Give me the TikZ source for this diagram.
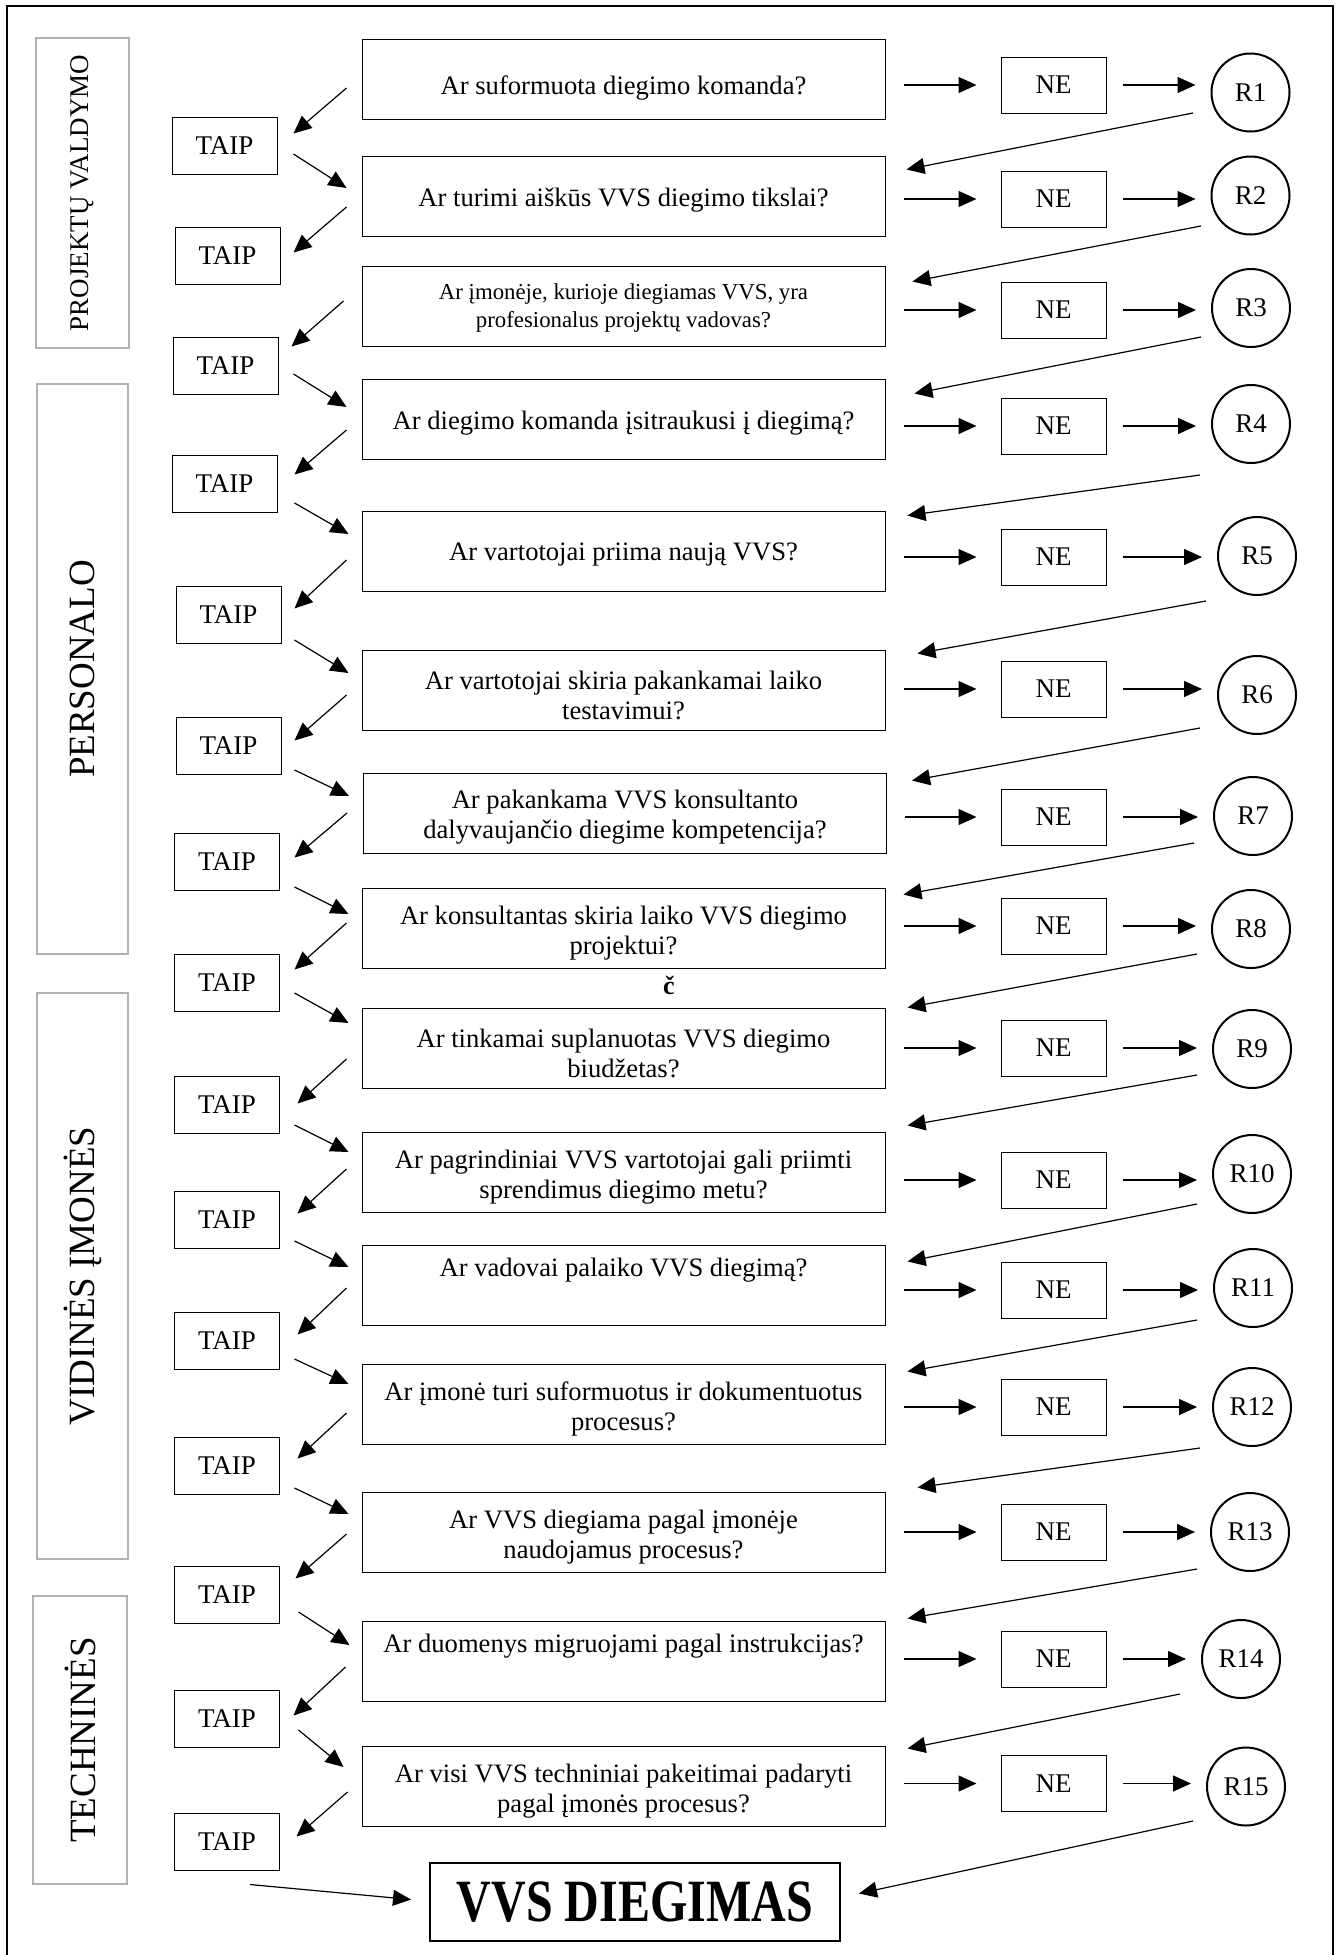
\documentclass[tikz,border=0pt]{standalone}
\usepackage{fontspec}
\usepackage{graphicx}
\setmainfont{Liberation Serif}
\usetikzlibrary{arrows.meta,calc}

\begin{document}
\begin{tikzpicture}[x=0.5pt,y=-0.5pt,
  qbox/.style={draw, line width=0.5pt, minimum width=261.5pt, minimum height=40pt,
    inner sep=0pt},
  qtext/.style={align=center, inner sep=0pt, font=\fontsize{13.3}{15}\selectfont},
  yesbox/.style={draw, line width=0.5pt, minimum width=52.5pt, minimum height=28.5pt,
    inner sep=0pt, font=\fontsize{13.5}{15}\selectfont},
  nobox/.style={yesbox, minimum height=28pt},
  rcirc/.style={draw, circle, line width=1pt, minimum size=39pt, inner sep=0pt,
    font=\fontsize{13.5}{15}\selectfont},
  catbox/.style={draw=gray!60, line width=1pt, rotate=90, inner sep=0pt},
  arr/.style={-{Triangle[length=9pt,width=8pt]}, line width=0.6pt},
]
\useasboundingbox (0,0) rectangle (1337,1955);

% outer frame (open at the bottom edge of the page)
\draw[line width=1.2pt] (7,1965) -- (7,6) -- (1333,6) -- (1333,1965);

% category boxes
\node[catbox, minimum width=155pt, minimum height=46.5pt, font=\fontsize{13.5}{15}\selectfont]
  (c1) at (82.5,193) {PROJEKTŲ VALDYMO};
\node[catbox, minimum width=285pt, minimum height=45.5pt, font=\fontsize{18.5}{20}\selectfont]
  (c2) at (82.5,669) {PERSONALO};
\node[catbox, minimum width=283pt, minimum height=45.5pt, font=\fontsize{18.5}{20}\selectfont]
  (c3) at (82.5,1276) {VIDINĖS ĮMONĖS};
\node[catbox, minimum width=144pt, minimum height=47pt, font=\fontsize{18.5}{20}\selectfont]
  (c4) at (80,1740) {TECHNINĖS};

% question boxes
\foreach \i/\x/\y in {1/623.5/79,2/623.5/196,3/623.5/306,4/623.5/419,5/623.5/551,
                      6/623.5/690,7/625/813,8/623.5/928,9/623.5/1048,10/623.5/1172,
                      11/623.5/1285,12/623.5/1404,13/623.5/1532,14/623.5/1661,15/623.5/1786}
  \node[qbox] (q\i) at (\x,\y) {};

% question texts
\node[qtext] (q1t) at ($(q1)+(0,9)$) {Ar suformuota diegimo komanda?};
\node[qtext] (q2t) at ($(q2)+(0,4)$) {Ar turimi aiškūs VVS diegimo tikslai?};
\node[qtext, font=\fontsize{11.4}{14}\selectfont] (q3t) at ($(q3)+(0,2)$)
  {Ar įmonėje, kurioje diegiamas VVS, yra\\profesionalus projektų vadovas?};
\node[qtext] (q4t) at ($(q4)+(0,4)$) {Ar diegimo komanda įsitraukusi į diegimą?};
\node[qtext] (q5t) at ($(q5)+(0,4)$) {Ar vartotojai priima naują VVS?};
\node[qtext] (q6t) at ($(q6)+(0,5)$) {Ar vartotojai skiria pakankamai laiko\\testavimui?};
\node[qtext] (q7t) at ($(q7)+(0,4)$) {Ar pakankama VVS konsultanto\\dalyvaujančio diegime kompetencija?};
\node[qtext] (q8t) at ($(q8)+(0,5)$) {Ar konsultantas skiria laiko VVS diegimo\\projektui?};
\node[qtext] (q9t) at ($(q9)+(0,5)$) {Ar tinkamai suplanuotas VVS diegimo\\biudžetas?};
\node[qtext] (q10t) at ($(q10)+(0,5)$) {Ar pagrindiniai VVS vartotojai gali priimti\\sprendimus diegimo metu?};
\node[qtext, anchor=base] (q11t) at ($(q11.north)+(0,32)$) {Ar vadovai palaiko VVS diegimą?};
\node[qtext] (q12t) at ($(q12)+(0,5)$) {Ar įmonė turi suformuotus ir dokumentuotus\\procesus?};
\node[qtext] (q13t) at ($(q13)+(0,5)$) {Ar VVS diegiama pagal įmonėje\\naudojamus procesus?};
\node[qtext, anchor=base] (q14t) at ($(q14.north)+(0,32)$) {Ar duomenys migruojami pagal instrukcijas?};
\node[qtext] (q15t) at ($(q15)+(0,5)$) {Ar visi VVS techniniai pakeitimai padaryti\\pagal įmonės procesus?};

\node[font=\bfseries\fontsize{13}{15}\selectfont] (cmark) at (669,985) {č};

% final box
\node[draw, line width=1pt, minimum width=205pt, minimum height=39pt, inner sep=0pt,
  font=\bfseries\fontsize{24}{26}\selectfont] (fin) at (635,1902) {\scalebox{1}[1.25]{VVS DIEGIMAS}};

% yes boxes
\node[yesbox] (t1) at (224.5,145.5) {TAIP};
\node[yesbox] (t2) at (227.5,255.5) {TAIP};
\node[yesbox] (t3) at (225.5,365.5) {TAIP};
\node[yesbox] (t4) at (224.5,483.5) {TAIP};
\node[yesbox] (t5) at (228.5,614.5) {TAIP};
\node[yesbox] (t6) at (228.5,745.5) {TAIP};
\node[yesbox] (t7) at (227,861.5) {TAIP};
\node[yesbox] (t8) at (227,982.5) {TAIP};
\node[yesbox] (t9) at (227,1104.5) {TAIP};
\node[yesbox] (t10) at (227,1219.5) {TAIP};
\node[yesbox] (t11) at (227,1340.5) {TAIP};
\node[yesbox] (t12) at (227,1465.5) {TAIP};
\node[yesbox] (t13) at (227,1594.5) {TAIP};
\node[yesbox] (t14) at (227,1718.5) {TAIP};
\node[yesbox] (t15) at (227,1841.5) {TAIP};

% no boxes
\foreach \i/\y in {1/85,2/199,3/310,4/426,5/557,6/689,7/817,8/926,9/1048,10/1180,
                   11/1290,12/1407,13/1532,14/1659,15/1783.5}
  \node[nobox] (ne\i) at (1053.5,\y) {NE};

% result circles
\foreach \i/\x/\y in {1/1250.5/92.5,2/1250.5/195.5,3/1251/308,4/1251/424,5/1257/556,
                      6/1257/695,7/1253/816,8/1251/929,9/1252/1049,10/1252/1174,
                      11/1253/1288,12/1252/1407,13/1250/1532,14/1241/1659,15/1246/1786.5}
  \node[rcirc] (r\i) at (\x,\y) {R\i};

% question -> NE -> R
\foreach \i in {1,...,15}{
  \draw[arr, shorten <=9pt, shorten >=12pt] (q\i.east |- ne\i) -- (ne\i.west);
  \draw[arr, shorten <=8pt, shorten >=7.5pt] (ne\i.east) -- (r\i.west |- ne\i);
}

% R -> next question
\draw[arr] ($(r1)+(-57.5,20.5)$) -- ($(q2.north east)+(21,14)$);
\draw[arr] ($(r2)+(-49.5,30.5)$) -- ($(q3.north east)+(27,16)$);
\draw[arr] ($(r3)+(-50,29)$) -- ($(q4.north east)+(29,15)$);
\draw[arr] ($(r4)+(-51,51)$) -- ($(q5.north east)+(22,5)$);
\draw[arr] ($(r5)+(-51,45)$) -- ($(q6.north east)+(32,4)$);
\draw[arr] ($(r6)+(-57,33)$) -- ($(q7.north east)+(25,8)$);
\draw[arr] ($(r7)+(-59,27)$) -- ($(q8.north east)+(18,7)$);
\draw[arr] ($(r8)+(-54,25)$) -- ($(q9.north east)+(22,0)$);
\draw[arr] ($(r9)+(-55,26)$) -- ($(q10.north east)+(22,-6)$);
\draw[arr] ($(r10)+(-55,30)$) -- ($(q11.north east)+(22,17)$);
\draw[arr] ($(r11)+(-56,32)$) -- ($(q12.north east)+(22,8)$);
\draw[arr] ($(r12)+(-52,41)$) -- ($(q13.north east)+(32,-4)$);
\draw[arr] ($(r13)+(-53,37)$) -- ($(q14.north east)+(22,-2)$);
\draw[arr] ($(r14)+(-61,35)$) -- ($(q15.north east)+(22,3)$);
\draw[arr] ($(r15)+(-53,34.5)$) -- ($(fin.east)+(18,-8.5)$);

% question -> TAIP
\draw[arr] ($(q1.west)+(-15,9)$) -- ($(t1.north east)+(16,17)$);
\draw[arr] ($(q2.west)+(-15,11)$) -- ($(t2.north east)+(13,26)$);
\draw[arr] ($(q3.west)+(-18,-5)$) -- ($(t3.north east)+(13,10)$);
\draw[arr] ($(q4.west)+(-15,11)$) -- ($(t4.north east)+(17,20)$);
\draw[arr] ($(q5.west)+(-15,9)$) -- ($(t5.north east)+(13,23)$);
\draw[arr] ($(q6.west)+(-15,5)$) -- ($(t6.north east)+(13,24)$);
\draw[arr] ($(q7.west)+(-16,0)$) -- ($(t7.north east)+(14.5,25)$);
\draw[arr] ($(q8.west)+(-15,-5)$) -- ($(t8.north east)+(14.5,16)$);
\draw[arr] ($(q9.west)+(-15,11)$) -- ($(t9.north east)+(17.5,28)$);
\draw[arr] ($(q10.west)+(-15,-3)$) -- ($(t10.north east)+(17.5,23)$);
\draw[arr] ($(q11.west)+(-15,3)$) -- ($(t11.north east)+(17.5,23)$);
\draw[arr] ($(q12.west)+(-15,9)$) -- ($(t12.north east)+(17.5,22)$);
\draw[arr] ($(q13.west)+(-15,2)$) -- ($(t13.north east)+(15.5,13)$);
\draw[arr] ($(q14.west)+(-16,6)$) -- ($(t14.north east)+(13.5,26)$);
\draw[arr] ($(q15.west)+(-14,6)$) -- ($(t15.north east)+(16.5,24)$);

% TAIP -> next question
\draw[arr] ($(t1.east)+(16,8.5)$) -- ($(q2.west)+(-15,-8)$);
\draw[arr] ($(t3.east)+(15,8.5)$) -- ($(q4.west)+(-15,-12)$);
\draw[arr] ($(t4.east)+(17,19.5)$) -- ($(q5.west)+(-13,-17)$);
\draw[arr] ($(t5.east)+(13,25.5)$) -- ($(q6.west)+(-13,-17)$);
\draw[arr] ($(t6.east)+(13,24.5)$) -- ($(q7.west)+(-14,-17)$);
\draw[arr] ($(t7.east)+(14.5,25.5)$) -- ($(q8.west)+(-13,-14)$);
\draw[arr] ($(t8.east)+(14.5,10.5)$) -- ($(q9.west)+(-13,-25)$);
\draw[arr] ($(t9.east)+(14.5,20.5)$) -- ($(q10.west)+(-13,-20)$);
\draw[arr] ($(t10.east)+(14.5,21.5)$) -- ($(q11.west)+(-13,-18)$);
\draw[arr] ($(t11.east)+(14.5,18.5)$) -- ($(q12.west)+(-13,-20)$);
\draw[arr] ($(t12.east)+(14.5,22.5)$) -- ($(q13.west)+(-13,-18)$);
\draw[arr] ($(t13.east)+(18.5,17.5)$) -- ($(q14.west)+(-12,-16)$);
\draw[arr] ($(t14.east)+(18.5,11.5)$) -- ($(q15.west)+(-18,-19)$);
\draw[arr] ($(t15.south)+(23,14)$) -- ($(fin.west)+(-18,-2.5)$);

\end{tikzpicture}
\end{document}
